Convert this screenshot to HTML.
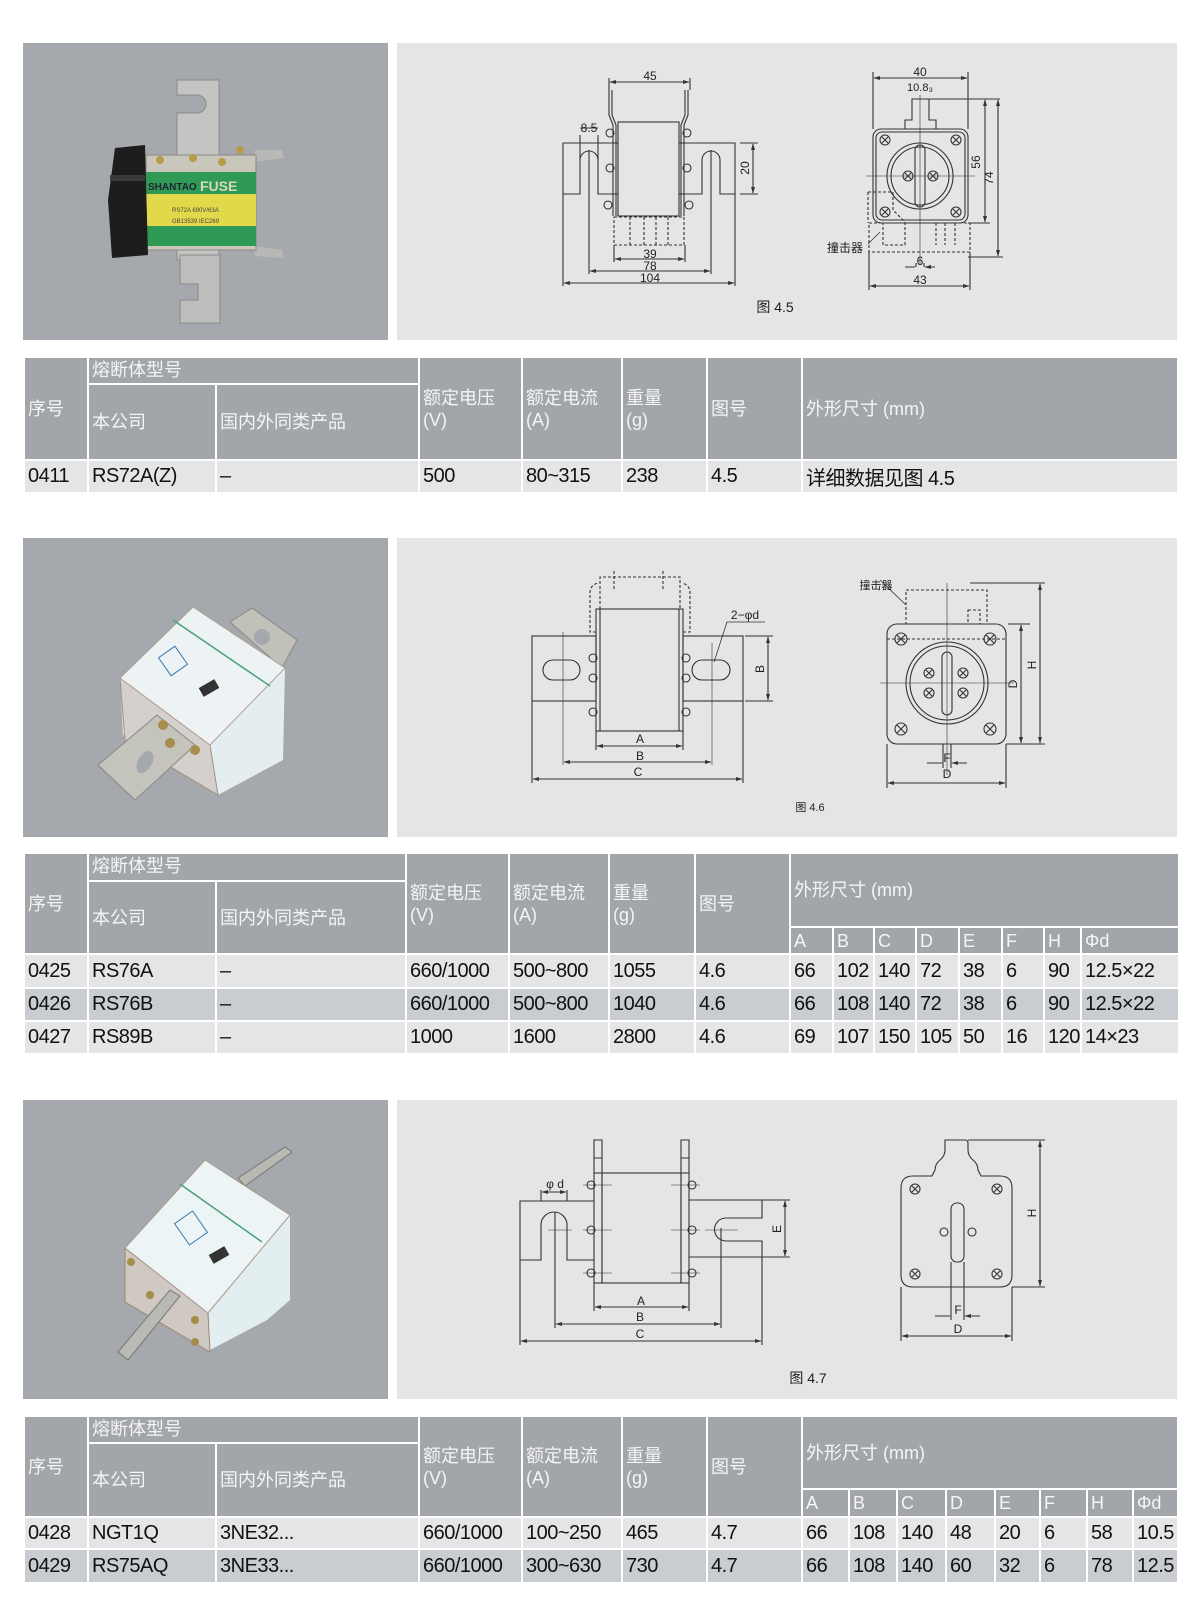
<!DOCTYPE html>
<html><head><meta charset="utf-8">
<style>
html,body{margin:0;padding:0;background:#fff;}
body{width:1200px;height:1601px;position:relative;overflow:hidden;font-family:"Liberation Sans","Noto Sans CJK SC",sans-serif;}
.photo{position:absolute;left:23px;width:365px;background:#a5a8ac;}
.diag{position:absolute;left:397px;width:780px;background:#e3e5e7;}
table{position:absolute;left:23px;border-collapse:collapse;table-layout:fixed;}
td{border:2px solid #fff;padding:0 0 0 3px;overflow:hidden;white-space:nowrap;}
td.h{background:#a2a5a9;color:#f5f5f5;font-size:18px;line-height:22px;vertical-align:middle;}
td.top{vertical-align:top;padding-top:1px;}
td.d{font-size:20px;color:#111;letter-spacing:-0.5px;vertical-align:middle;}
tr.l td.d{background:#e3e5e7;}
tr.k td.d{background:#c9ccd0;}
svg{position:absolute;left:0;top:0;}
</style></head><body>

<div class="photo" style="top:43px;height:297px"></div>
<div class="diag" style="top:43px;height:297px"></div>
<div class="photo" style="top:538px;height:299px"></div>
<div class="diag" style="top:538px;height:299px"></div>
<div class="photo" style="top:1100px;height:299px"></div>
<div class="diag" style="top:1100px;height:299px"></div>

<!-- Table 1 -->
<table style="top:356px;width:1154px">
<colgroup><col style="width:64px"><col style="width:128px"><col style="width:203px"><col style="width:103px"><col style="width:100px"><col style="width:85px"><col style="width:95px"><col style="width:376px"></colgroup>
<tr style="height:27px"><td class="h" rowspan="2">序号</td><td class="h top" colspan="2">熔断体型号</td><td class="h" rowspan="2">额定电压<br>(V)</td><td class="h" rowspan="2">额定电流<br>(A)</td><td class="h" rowspan="2">重量<br>(g)</td><td class="h" rowspan="2">图号</td><td class="h" rowspan="2">外形尺寸 (mm)</td></tr>
<tr style="height:76px"><td class="h">本公司</td><td class="h">国内外同类产品</td></tr>
<tr class="l" style="height:33px"><td class="d">0411</td><td class="d">RS72A(Z)</td><td class="d">–</td><td class="d">500</td><td class="d">80~315</td><td class="d">238</td><td class="d">4.5</td><td class="d">详细数据见图 4.5</td></tr>
</table>

<!-- Table 2 -->
<table style="top:852px;width:1155px">
<colgroup><col style="width:64px"><col style="width:128px"><col style="width:190px"><col style="width:103px"><col style="width:100px"><col style="width:86px"><col style="width:95px"><col style="width:43px"><col style="width:41px"><col style="width:42px"><col style="width:43px"><col style="width:43px"><col style="width:42px"><col style="width:37px"><col style="width:98px"></colgroup>
<tr style="height:28px"><td class="h" rowspan="3">序号</td><td class="h top" colspan="2">熔断体型号</td><td class="h" rowspan="3">额定电压<br>(V)</td><td class="h" rowspan="3">额定电流<br>(A)</td><td class="h" rowspan="3">重量<br>(g)</td><td class="h" rowspan="3">图号</td><td class="h" colspan="8" rowspan="2">外形尺寸 (mm)</td></tr>
<tr style="height:46px"><td class="h" rowspan="2">本公司</td><td class="h" rowspan="2">国内外同类产品</td></tr>
<tr style="height:27px"><td class="h">A</td><td class="h">B</td><td class="h">C</td><td class="h">D</td><td class="h">E</td><td class="h">F</td><td class="h">H</td><td class="h">Φd</td></tr>
<tr class="l" style="height:34px"><td class="d">0425</td><td class="d">RS76A</td><td class="d">–</td><td class="d">660/1000</td><td class="d">500~800</td><td class="d">1055</td><td class="d">4.6</td><td class="d">66</td><td class="d">102</td><td class="d">140</td><td class="d">72</td><td class="d">38</td><td class="d">6</td><td class="d">90</td><td class="d">12.5×22</td></tr>
<tr class="k" style="height:33px"><td class="d">0426</td><td class="d">RS76B</td><td class="d">–</td><td class="d">660/1000</td><td class="d">500~800</td><td class="d">1040</td><td class="d">4.6</td><td class="d">66</td><td class="d">108</td><td class="d">140</td><td class="d">72</td><td class="d">38</td><td class="d">6</td><td class="d">90</td><td class="d">12.5×22</td></tr>
<tr class="l" style="height:33px"><td class="d">0427</td><td class="d">RS89B</td><td class="d">–</td><td class="d">1000</td><td class="d">1600</td><td class="d">2800</td><td class="d">4.6</td><td class="d">69</td><td class="d">107</td><td class="d">150</td><td class="d">105</td><td class="d">50</td><td class="d">16</td><td class="d">120</td><td class="d">14×23</td></tr>
</table>

<!-- Table 3 -->
<table style="top:1415px;width:1154px">
<colgroup><col style="width:64px"><col style="width:128px"><col style="width:203px"><col style="width:103px"><col style="width:100px"><col style="width:85px"><col style="width:95px"><col style="width:47px"><col style="width:48px"><col style="width:49px"><col style="width:49px"><col style="width:45px"><col style="width:47px"><col style="width:46px"><col style="width:45px"></colgroup>
<tr style="height:27px"><td class="h" rowspan="3">序号</td><td class="h top" colspan="2">熔断体型号</td><td class="h" rowspan="3">额定电压<br>(V)</td><td class="h" rowspan="3">额定电流<br>(A)</td><td class="h" rowspan="3">重量<br>(g)</td><td class="h" rowspan="3">图号</td><td class="h" colspan="8" rowspan="2">外形尺寸 (mm)</td></tr>
<tr style="height:46px"><td class="h" rowspan="2">本公司</td><td class="h" rowspan="2">国内外同类产品</td></tr>
<tr style="height:28px"><td class="h">A</td><td class="h">B</td><td class="h">C</td><td class="h">D</td><td class="h">E</td><td class="h">F</td><td class="h">H</td><td class="h">Φd</td></tr>
<tr class="l" style="height:32px"><td class="d">0428</td><td class="d">NGT1Q</td><td class="d">3NE32...</td><td class="d">660/1000</td><td class="d">100~250</td><td class="d">465</td><td class="d">4.7</td><td class="d">66</td><td class="d">108</td><td class="d">140</td><td class="d">48</td><td class="d">20</td><td class="d">6</td><td class="d">58</td><td class="d">10.5</td></tr>
<tr class="k" style="height:34px"><td class="d">0429</td><td class="d">RS75AQ</td><td class="d">3NE33...</td><td class="d">660/1000</td><td class="d">300~630</td><td class="d">730</td><td class="d">4.7</td><td class="d">66</td><td class="d">108</td><td class="d">140</td><td class="d">60</td><td class="d">32</td><td class="d">6</td><td class="d">78</td><td class="d">12.5</td></tr>
</table>

<svg width="1200" height="1601" viewBox="0 0 1200 1601" xmlns="http://www.w3.org/2000/svg" font-family="Liberation Sans, Noto Sans CJK SC, sans-serif">
<defs>
<marker id="a" viewBox="0 0 10 10" refX="9" refY="5" markerWidth="6" markerHeight="6" orient="auto-start-reverse"><path d="M0,2 L10,5 L0,8z" fill="#333"/></marker>
</defs>

<!-- PHOTO 1 -->
<g>
<path d="M177,80 H219 V260 H177 V113 H197 A9,9 0 0 0 197,95 H177Z" fill="#c4c5c3" stroke="#8a8a88"/>
<path d="M180,255 H220 V323 H180 V300 H198 V284 H180Z" fill="#bdbebc" stroke="#8a8a88"/>
<path d="M255,150 L282,150 L284,158 L255,162Z" fill="#b8b9b7"/>
<path d="M255,246 L282,250 L284,258 L255,256Z" fill="#b8b9b7"/>
<rect x="146" y="155" width="110" height="95" fill="#c9c6bc" stroke="#888"/>
<rect x="146" y="172" width="110" height="22" fill="#2f9a55"/>
<rect x="146" y="194" width="110" height="32" fill="#e2d94a"/>
<rect x="146" y="226" width="110" height="20" fill="#2f9a55"/>
<text x="148" y="190" font-size="10" font-weight="bold" fill="#223">SHANTAO</text><text x="200" y="191" font-size="14" font-weight="bold" fill="#d8d8b8">FUSE</text>
<text x="172" y="212" font-size="6" fill="#444">RS72A  690V/63A</text>
<text x="172" y="223" font-size="6" fill="#444">GB13539  IEC269</text>
<path d="M115,148 L145,145 L148,255 L112,258 L108,200Z" fill="#1d1d1d"/>
<rect x="110" y="175" width="35" height="6" fill="#3a3a3a"/>
<circle cx="160" cy="160" r="4" fill="#b59b4a"/><circle cx="193" cy="158" r="4" fill="#b59b4a"/><circle cx="222" cy="162" r="4" fill="#b59b4a"/><circle cx="240" cy="150" r="4" fill="#b59b4a"/>
</g>

<!-- PHOTO 2 -->
<g>
<path d="M230,622 L252,608 L297,640 L282,668Z" fill="#c2c1b9" stroke="#888"/>
<circle cx="262" cy="637" r="8" fill="#a5a8ac"/>
<path d="M120,678 L193,607 L285,668 L283,760 L218,795 L123,735Z" fill="#e4eef0"/>
<path d="M120,678 L210,745 L218,795 L125,740Z" fill="#d5d0cc" stroke="#a08f80"/>
<path d="M120,678 L193,607 L285,668 L210,745Z" fill="#edf3f4" stroke="#b0a090"/>
<path d="M173,620 L270,686" stroke="#4aa07a" stroke-width="1.5"/>
<rect x="163" y="650" width="20" height="22" fill="none" stroke="#3a7ab0" transform="rotate(-35 173 661)"/>
<rect x="200" y="683" width="18" height="10" fill="#333" transform="rotate(-30 209 688)"/>
<path d="M98,765 L157,715 L195,745 L135,800Z" fill="#c4c4bc" stroke="#888"/>
<ellipse cx="145" cy="762" rx="7" ry="12" fill="#a5a8ac" transform="rotate(30 145 762)"/>
<circle cx="163" cy="725" r="5" fill="#a58d4a"/><circle cx="170" cy="743" r="5" fill="#a58d4a"/><circle cx="195" cy="750" r="5" fill="#a58d4a"/>
</g>

<!-- PHOTO 3 -->
<g>
<path d="M238,1178 L285,1147 L292,1152 L245,1186Z" fill="#b8b9b2" stroke="#777"/>
<path d="M125,1248 L205,1160 L290,1215 L290,1300 L267,1320 L210,1350 L125,1300Z" fill="#e3eef0"/>
<path d="M125,1248 L208,1313 L210,1352 L125,1302Z" fill="#cfc8c3" stroke="#998877"/>
<path d="M125,1248 L205,1160 L290,1215 L208,1313Z" fill="#ecf4f5" stroke="#aa9988"/>
<path d="M180,1184 L262,1242" stroke="#4aa07a" stroke-width="1.5"/>
<rect x="180" y="1215" width="22" height="26" fill="none" stroke="#3a7ab0" transform="rotate(-35 191 1228)"/>
<rect x="210" y="1250" width="18" height="10" fill="#333" transform="rotate(-30 219 1255)"/>
<path d="M118,1352 L170,1290 L180,1296 L128,1360Z" fill="#b9bab3" stroke="#777"/>
<circle cx="131" cy="1262" r="4" fill="#a58d4a"/><circle cx="150" cy="1295" r="4" fill="#a58d4a"/><circle cx="195" cy="1320" r="4" fill="#a58d4a"/><circle cx="195" cy="1342" r="4" fill="#a58d4a"/>
</g>

<!-- DIAGRAM 1 -->
<g fill="none" stroke="#333" stroke-width="1.1" font-size="12" >
<path d="M618,143 H563 V194 H580 V160 A9,9 0 0 1 598,160 V194 H618"/>
<path d="M679,143 H735 V194 H720 V160 A9,9 0 0 0 702,160 V194 H679"/>
<rect x="618" y="122" width="61" height="94"/>
<path d="M613,216 V125 L609,115 V90 M616,216 V125 L612,115 V90"/>
<path d="M684,216 V125 L688,115 V90 M681,216 V125 L685,115 V90"/>
<circle cx="610" cy="133" r="4"/><circle cx="610" cy="168" r="4"/><circle cx="608" cy="205" r="4"/>
<circle cx="687" cy="133" r="4"/><circle cx="687" cy="168" r="4"/><circle cx="689" cy="205" r="4"/>
<g stroke-dasharray="3,2"><rect x="614" y="217" width="70" height="28"/><path d="M630,217 V245 M644,217 V245 M656,217 V245 M668,217 V245"/></g>
<path d="M609,90 V78 M690,90 V78"/><path d="M610,82 H689" marker-start="url(#a)" marker-end="url(#a)"/>
<path d="M580,135 V160 M598,135 V160 M580,128 H598"/>
<path d="M740,143 H758 M740,194 H758"/><path d="M753,144 V193" marker-start="url(#a)" marker-end="url(#a)"/>
<path d="M614,245 V262 M685,245 V262"/><path d="M615,259 H684" marker-start="url(#a)" marker-end="url(#a)"/>
<path d="M589,150 V274 M711,150 V274"/><path d="M590,271 H710" marker-start="url(#a)" marker-end="url(#a)"/>
<path d="M563,194 V286 M735,194 V286"/><path d="M564,283 H734" marker-start="url(#a)" marker-end="url(#a)"/>
<path d="M912,99 H929 V120 H936 V129 H905 V120 H912Z"/>
<rect x="873" y="129" width="95" height="94" rx="8"/>
<rect x="876" y="132" width="89" height="88" rx="6"/>
<circle cx="920" cy="176" r="33"/><circle cx="920" cy="176" r="29"/>
<rect x="915" y="145" width="10" height="62" rx="5"/>
<g><circle cx="885" cy="140" r="5"/><circle cx="956" cy="140" r="5"/><circle cx="885" cy="212" r="5"/><circle cx="956" cy="212" r="5"/><circle cx="908" cy="176" r="5"/><circle cx="933" cy="176" r="5"/>
<path d="M882,137 l6,6 m0,-6 l-6,6 M953,137 l6,6 m0,-6 l-6,6 M882,209 l6,6 m0,-6 l-6,6 M953,209 l6,6 m0,-6 l-6,6 M905,173 l6,6 m0,-6 l-6,6 M930,173 l6,6 m0,-6 l-6,6"/></g>
<path d="M866,176 H975 M920,95 V265" stroke-width="0.6"/>
<g stroke-dasharray="3,2"><path d="M868,192 H893 V210 L905,222 V245 H883 V223 M868,192 V223"/><rect x="869" y="223" width="101" height="29"/><path d="M936,223 V245 M945,223 V245 M955,223 V245"/></g>
<path d="M873,129 V72 M968,129 V72"/><path d="M874,78 H967" marker-start="url(#a)" marker-end="url(#a)"/>
<path d="M929,99 H1000 M968,223 H990 M968,257 H1003"/>
<path d="M985,100 V222" marker-start="url(#a)" marker-end="url(#a)"/>
<path d="M998,100 V256" marker-start="url(#a)" marker-end="url(#a)"/>
<path d="M869,252 V290 M970,252 V290"/><path d="M870,286 H969" marker-start="url(#a)" marker-end="url(#a)"/>
<path d="M916,267 V263 M924,267 V263 M905,267 H915 M935,267 H925" marker-end="url(#a)"/>
<path d="M868,244 L880,232" stroke-width="0.8"/>
</g>
<g fill="#222" font-size="12" text-anchor="middle">
<text x="650" y="80">45</text><text x="589" y="132">8.5</text>
<text x="749" y="168" transform="rotate(-90 749 168)">20</text>
<text x="650" y="258">39</text><text x="650" y="270">78</text><text x="650" y="282">104</text>
<text x="920" y="76">40</text><text x="920" y="91" font-size="11">10.8₃</text>
<text x="980" y="162" transform="rotate(-90 980 162)">56</text>
<text x="993" y="178" transform="rotate(-90 993 178)">74</text>
<text x="920" y="265">6</text><text x="920" y="284">43</text>
<text x="845" y="252" font-size="12">撞击器</text>
<text x="775" y="312" font-size="14">图 4.5</text>
</g>

<!-- DIAGRAM 2 -->
<g fill="none" stroke="#333" stroke-width="1.1">
<rect x="532" y="636" width="64" height="65"/><rect x="683" y="636" width="60" height="65"/>
<rect x="543" y="660" width="37" height="20" rx="10"/><rect x="692" y="660" width="38" height="20" rx="10"/>
<rect x="596" y="609" width="87" height="122"/><path d="M600,609 V731 M679,609 V731"/>
<g stroke-dasharray="3,2"><path d="M600,609 V577 H680 V609 M596,632 H590 V593 Q590,585 598,583 M683,632 H690 V593 Q690,585 682,583"/><path d="M614,571 V590 M663,571 V590"/></g>
<circle cx="593" cy="658" r="4"/><circle cx="593" cy="678" r="4"/><circle cx="593" cy="712" r="4"/>
<circle cx="686" cy="658" r="4"/><circle cx="686" cy="678" r="4"/><circle cx="686" cy="712" r="4"/>
<path d="M563,632 V765 M712,643 V765" stroke-width="0.6"/>
<path d="M596,731 V750 M683,731 V750"/><path d="M597,746 H682" marker-start="url(#a)" marker-end="url(#a)"/>
<path d="M564,762 H711" marker-start="url(#a)" marker-end="url(#a)"/>
<path d="M532,701 V783 M743,701 V783"/><path d="M533,779 H742" marker-start="url(#a)" marker-end="url(#a)"/>
<path d="M745,636 H773 M745,701 H773"/><path d="M768,637 V700" marker-start="url(#a)" marker-end="url(#a)"/>
<path d="M714,662 L727,622 H765" stroke-width="0.8"/>
<rect x="887" y="624" width="119" height="120" rx="10"/>
<circle cx="947" cy="683" r="41"/><circle cx="947" cy="683" r="37"/>
<rect x="942" y="652" width="10" height="63" rx="5"/>
<g><circle cx="901" cy="639" r="6"/><circle cx="990" cy="639" r="6"/><circle cx="901" cy="729" r="6"/><circle cx="990" cy="729" r="6"/>
<circle cx="929" cy="673" r="5"/><circle cx="963" cy="673" r="5"/><circle cx="929" cy="693" r="5"/><circle cx="963" cy="693" r="5"/>
<path d="M897,635 l8,8 m0,-8 l-8,8 M986,635 l8,8 m0,-8 l-8,8 M897,725 l8,8 m0,-8 l-8,8 M986,725 l8,8 m0,-8 l-8,8 M926,670 l6,6 m0,-6 l-6,6 M960,670 l6,6 m0,-6 l-6,6 M926,690 l6,6 m0,-6 l-6,6 M960,690 l6,6 m0,-6 l-6,6"/></g>
<path d="M880,683 H1014 M947,583 V775" stroke-width="0.6"/>
<g stroke-dasharray="3,2"><rect x="906" y="590" width="81" height="34"/><rect x="968" y="610" width="12" height="14"/><path d="M887,639 H1006"/></g>
<path d="M880,580 L906,605" stroke-width="0.8"/>
<path d="M970,583 H1045 M1008,624 H1030 M1006,744 H1045"/>
<path d="M1040,584 V743" marker-start="url(#a)" marker-end="url(#a)"/>
<path d="M1021,625 V743" marker-start="url(#a)" marker-end="url(#a)"/>
<path d="M943,744 V768 M951,744 V768"/><path d="M927,763 H942 M967,763 H952" marker-end="url(#a)"/>
<path d="M887,744 V788 M1006,744 V788"/><path d="M888,783 H1005" marker-start="url(#a)" marker-end="url(#a)"/>
</g>
<g fill="#222" font-size="12" text-anchor="middle">
<text x="640" y="743">A</text><text x="640" y="760">B</text><text x="638" y="776">C</text>
<text x="764" y="669" transform="rotate(-90 764 669)">B</text>
<text x="745" y="619">2−φd</text>
<text x="876" y="589" font-size="11">撞击器</text>
<text x="1036" y="665" transform="rotate(-90 1036 665)">H</text>
<text x="1017" y="684" transform="rotate(-90 1017 684)">D</text>
<text x="947" y="762">F</text><text x="947" y="778">D</text>
<text x="810" y="811" font-size="11">图 4.6</text>
</g>

<!-- DIAGRAM 3 -->
<g fill="none" stroke="#333" stroke-width="1.1">
<path d="M594,1201 H520 V1260 H541 V1225 A13,13 0 0 1 567,1225 V1260 H594"/>
<path d="M689,1200 H762 V1218 H726 A11.5,11.5 0 0 0 726,1241 H762 V1257 H689"/>
<rect x="602" y="1173" width="79" height="110"/>
<rect x="594" y="1173" width="8" height="110"/><rect x="681" y="1173" width="8" height="110"/>
<path d="M594,1173 V1140 H602 V1173 M681,1173 V1140 H689 V1173 M594,1158 H602 M681,1158 H689"/>
<circle cx="591" cy="1185" r="4"/><circle cx="591" cy="1230" r="4"/><circle cx="591" cy="1273" r="4"/>
<circle cx="692" cy="1185" r="4"/><circle cx="692" cy="1230" r="4"/><circle cx="692" cy="1273" r="4"/>
<path d="M583,1185 H612 M583,1230 H612 M583,1273 H612 M671,1185 H700 M671,1230 H700 M671,1273 H700 M548,1230 H572 M705,1230 H738" stroke-width="0.6"/>
<path d="M541,1190 V1201 M567,1190 V1201"/><path d="M542,1192 H566" marker-start="url(#a)" marker-end="url(#a)"/>
<path d="M594,1283 V1311 M689,1283 V1311"/><path d="M595,1307 H688" marker-start="url(#a)" marker-end="url(#a)"/>
<path d="M555,1212 V1328 M721,1228 V1328"/><path d="M556,1324 H720" marker-start="url(#a)" marker-end="url(#a)"/>
<path d="M520,1260 V1345 M762,1257 V1345"/><path d="M521,1341 H761" marker-start="url(#a)" marker-end="url(#a)"/>
<path d="M762,1200 H790 M762,1257 H790"/><path d="M785,1201 V1256" marker-start="url(#a)" marker-end="url(#a)"/>
<path d="M945,1140 H965 Q968,1140 968,1143 V1150 Q968,1156 973,1160 Q978,1164 978,1170 L981,1176 H1000 Q1012,1176 1012,1188 V1275 Q1012,1287 1000,1287 H913 Q901,1287 901,1275 V1188 Q901,1176 913,1176 H932 L935,1170 Q935,1164 940,1160 Q945,1156 945,1150Z"/>
<rect x="951" y="1203" width="13" height="59" rx="6"/>
<g><circle cx="915" cy="1189" r="5"/><circle cx="997" cy="1189" r="5"/><circle cx="915" cy="1274" r="5"/><circle cx="997" cy="1274" r="5"/><circle cx="944" cy="1232" r="4"/><circle cx="972" cy="1232" r="4"/>
<path d="M912,1186 l6,6 m0,-6 l-6,6 M994,1186 l6,6 m0,-6 l-6,6 M912,1271 l6,6 m0,-6 l-6,6 M994,1271 l6,6 m0,-6 l-6,6"/></g>
<path d="M968,1140 H1045 M1012,1287 H1045"/><path d="M1040,1141 V1286" marker-start="url(#a)" marker-end="url(#a)"/>
<path d="M951,1262 V1320 M964,1262 V1320"/><path d="M935,1316 H950 M980,1316 H965" marker-end="url(#a)"/>
<path d="M901,1287 V1341 M1012,1287 V1341"/><path d="M902,1336 H1011" marker-start="url(#a)" marker-end="url(#a)"/>
</g>
<g fill="#222" font-size="12" text-anchor="middle">
<text x="555" y="1188">φ d</text>
<text x="781" y="1229" transform="rotate(-90 781 1229)">E</text>
<text x="641" y="1305">A</text><text x="640" y="1321">B</text><text x="640" y="1338">C</text>
<text x="1036" y="1213" transform="rotate(-90 1036 1213)">H</text>
<text x="958" y="1314">F</text><text x="958" y="1333">D</text>
<text x="808" y="1383" font-size="14">图 4.7</text>
</g>
</svg>
</body></html>
